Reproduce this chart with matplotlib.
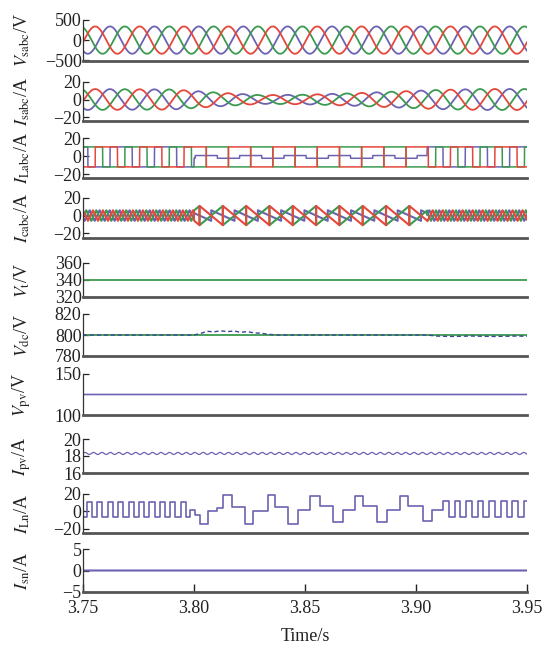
import numpy as np
import matplotlib
matplotlib.use("Agg")
import matplotlib.pyplot as plt

plt.rcParams["font.family"] = ["Liberation Serif", "DejaVu Serif"]
plt.rcParams["mathtext.fontset"] = "stix"

RED, GRN, PUR, NAVY = "#e4473b", "#3b9a4f", "#6b63b2", "#3c4599"
PHASE_COLORS = [RED, GRN, PUR]

T_START, T_END = 3.75, 3.95
F_GRID = 50.0                      # I_Ln pattern repeats every ~0.02 s
PHASE_SHIFT = [0.0, 2 / 3, 1 / 3]  # red, green, blue lag (fraction of a cycle)

# source voltage V_sabc
VS_AMP = 340.0
VS_PEAK_T = 3.7555

# source current I_sabc: amplitude read cycle by cycle
IS_ENV_T = [3.75, 3.79, 3.81, 3.83, 3.85, 3.87, 3.89, 3.91, 3.93, 3.95]
IS_ENV_A = [12.0, 11.5, 8.0, 5.0, 5.5, 7.0, 9.0, 11.0, 12.0, 12.0]

# load current I_Labc: square waves, three time segments
IL_SEG_T = [3.75, 3.80, 3.905, 3.95]
IL_SEG_AMP = [(11, 11, 11), (11, 11, 1.5), (11, 11, 11)]
IL_SEG_SHIFT = [(0, 2 / 3, 1 / 3), (0, 1 / 2, 1 / 4), (0, 2 / 3, 1 / 3)]
IL_OFFSET = -0.8

# compensating current I_cabc: triangle / sawtooth per segment
IC_SEG_T = [3.75, 3.80, 3.905, 3.95]
IC_SEG_KIND = ["tri", "saw", "tri"]
IC_SEG_PERIOD = [0.0045, 0.0105, 0.0045]
IC_SEG_AMP = [(6, 6, 6), (11, -11, 6), (6, 6, 6)]
IC_SEG_SHIFT = [(0, 1 / 3, 2 / 3), (0, 0, 0.5), (0, 1 / 3, 2 / 3)]

# terminal voltage, dc link, PV
VT_LEVEL = 340.0
VDC_REF = 800.0
VDC_T = [3.75, 3.800, 3.803, 3.806, 3.809, 3.812, 3.815, 3.818, 3.821, 3.824,
         3.827, 3.830, 3.833, 3.837, 3.905, 3.909, 3.915, 3.925, 3.935, 3.945, 3.95]
VDC_V = [800, 800, 801.5, 803.5, 803, 804, 803.2, 803.8, 802.6, 803.2,
         802, 801.8, 800.8, 800, 800, 799, 798.6, 799, 798.6, 799, 798.8]
VPV_LEVEL = 125.0
IPV_LEVEL = 18.3
IPV_RIPPLE = 0.12
IPV_RIPPLE_PERIOD = 0.0038

# neutral load current I_Ln
ILN_LEFT = (3.7517, 3.7982, 0.0047, 11.0, -6.0)   # start, end, period, high, low
ILN_STEP_T = [3.7982, 3.8005, 3.8027, 3.8063, 3.8104, 3.8131, 3.8171, 3.8230, 3.8266,
              3.8333, 3.8365, 3.8423, 3.8468, 3.8523, 3.8568, 3.8626, 3.8671, 3.8725,
              3.8761, 3.8824, 3.8869, 3.8928, 3.8964, 3.9032, 3.9072]
ILN_STEP_V = [2, -4, -15, 0, 4, 19, 5, -15, 0,
              19, 5, -15, 1, 18, 6, -12, 2, 18,
              6, -12, 1, 18, 6, -11, 1]
ILN_RIGHT = (3.9122, 3.95, 0.0052, 12.0, -6.0)
ISN_LEVEL = 0.0

# panels: (label, yticks, ylim, top px, bottom px)
PANELS = [
    (r"$V_{\mathrm{sabc}}$/V", [-500, 0, 500], (-520, 500), 20, 61),
    (r"$I_{\mathrm{sabc}}$/A", [-20, 0, 20], (-24, 20), 82, 120.5),
    (r"$I_{\mathrm{Labc}}$/A", [-20, 0, 20], (-24, 20), 138, 178),
    (r"$I_{\mathrm{cabc}}$/A", [-20, 0, 20], (-25, 20), 198, 237.5),
    (r"$V_{\mathrm{t}}$/V", [320, 340, 360], (320, 360), 263, 297),
    (r"$V_{\mathrm{dc}}$/V", [780, 800, 820], (780, 820), 314, 356),
    (r"$V_{\mathrm{pv}}$/V", [100, 150], (100, 150), 374, 415),
    (r"$I_{\mathrm{pv}}$/A", [16, 18, 20], (16, 20), 439, 473),
    (r"$I_{\mathrm{Ln}}$/A", [-20, 0, 20], (-25, 20), 494, 533),
    (r"$I_{\mathrm{sn}}$/A", [-5, 0, 5], (-5, 5), 549, 592),
]
XTICKS = [3.75, 3.80, 3.85, 3.90, 3.95]

W_PX, H_PX = 544, 648
LEFT_PX, RIGHT_PX = 83, 527


def frac(t, period, shift):
    return ((t - T_START) / period - shift) % 1.0


def pulse_train(start, end, period, hi, lo):
    edges = np.arange(start, end, period / 2)
    vals = np.where(np.arange(len(edges)) % 2 == 0, hi, lo)
    return edges, vals


def main():
    t = np.linspace(T_START, T_END, 8001)
    w = 2 * np.pi * F_GRID

    fig = plt.figure(figsize=(W_PX / 100, H_PX / 100), dpi=100)
    axes = []
    for label, yt, yl, top, bot in PANELS:
        ax = fig.add_axes([LEFT_PX / W_PX, 1 - bot / H_PX,
                           (RIGHT_PX - LEFT_PX) / W_PX, (bot - top) / H_PX])
        ax.set_xlim(T_START, T_END)
        ax.set_ylim(*yl)
        ax.set_yticks(yt)
        ax.set_yticklabels([f"{v:g}".replace("-", "\u2212") for v in yt])
        for s in ("top", "right"):
            ax.spines[s].set_visible(False)
        ax.spines["left"].set_linewidth(0.9)
        ax.spines["left"].set_color("#333333")
        ax.spines["bottom"].set_linewidth(2.0)
        ax.spines["bottom"].set_color("#555555")
        ax.tick_params(axis="y", direction="in", length=4, width=0.9,
                       labelsize=13, pad=1, colors="#222222")
        ax.set_xticks([])
        ax.patch.set_alpha(0)
        fig.text(22 / W_PX, 1 - (top + bot) / 2 / H_PX, label, rotation=90,
                 ha="center", va="center", fontsize=13, color="#222222")
        axes.append(ax)

    # V_sabc and I_sabc
    env = np.interp(t, IS_ENV_T, IS_ENV_A)
    for k in (2, 1, 0):
        ph = w * (t - VS_PEAK_T) - 2 * np.pi * PHASE_SHIFT[k]
        axes[0].plot(t, VS_AMP * np.cos(ph), color=PHASE_COLORS[k], lw=1.3)
        axes[1].plot(t, env * np.cos(ph), color=PHASE_COLORS[k], lw=1.3)

    # I_Labc and I_cabc
    for k in (2, 1, 0):
        il = np.zeros_like(t)
        ic = np.zeros_like(t)
        for i in range(len(IL_SEG_T) - 1):
            m = (t >= IL_SEG_T[i]) & (t <= IL_SEG_T[i + 1])
            sq = np.where(frac(t[m] - VS_PEAK_T + T_START, 1 / F_GRID,
                               IL_SEG_SHIFT[i][k]) < 0.5, 1.0, -1.0)
            il[m] = IL_OFFSET + IL_SEG_AMP[i][k] * sq
        for i in range(len(IC_SEG_T) - 1):
            m = (t >= IC_SEG_T[i]) & (t <= IC_SEG_T[i + 1])
            f = frac(t[m], IC_SEG_PERIOD[i], IC_SEG_SHIFT[i][k])
            if IC_SEG_KIND[i] == "tri":
                shape = 4 * np.abs(f - 0.5) - 1
            else:
                shape = 1 - 2 * f
            ic[m] = IC_SEG_AMP[i][k] * shape
        axes[2].plot(t, il, color=PHASE_COLORS[k], lw=1.1)
        axes[3].plot(t, ic, color=PHASE_COLORS[k], lw=1.5)

    # V_t
    axes[4].plot(t, np.full_like(t, VT_LEVEL), color=GRN, lw=1.3)
    # V_dc
    axes[5].plot(t, np.full_like(t, VDC_REF), color=GRN, lw=1.3)
    axes[5].plot(VDC_T, VDC_V, color=NAVY, lw=1.0, dashes=(3, 2))
    # V_pv
    axes[6].plot(t, np.full_like(t, VPV_LEVEL), color=PUR, lw=1.2)
    # I_pv
    axes[7].plot(t, IPV_LEVEL + IPV_RIPPLE * np.sin(2 * np.pi * (t - T_START) / IPV_RIPPLE_PERIOD),
                 color=PUR, lw=0.9)
    # I_Ln
    e1, v1 = pulse_train(*ILN_LEFT)
    e3, v3 = pulse_train(*ILN_RIGHT)
    edges = np.concatenate([[T_START], e1, ILN_STEP_T, e3, [T_END]])
    vals = np.concatenate([[ILN_LEFT[4]], v1, ILN_STEP_V, v3, [v3[-1]]])
    axes[8].step(edges, vals, where="post", color=PUR, lw=1.2)
    # I_sn
    axes[9].plot(t, np.full_like(t, ISN_LEVEL), color=PUR, lw=1.5)

    last = axes[-1]
    last.set_xticks(XTICKS)
    last.set_xticklabels([f"{x:.2f}" for x in XTICKS])
    last.tick_params(axis="x", direction="in", length=6, width=1.0,
                     labelsize=13, pad=6, colors="#222222")
    last.set_xlabel("Time/s", fontsize=13, labelpad=8, color="#222222")

    fig.savefig("out.png", dpi=100)


if __name__ == "__main__":
    main()
